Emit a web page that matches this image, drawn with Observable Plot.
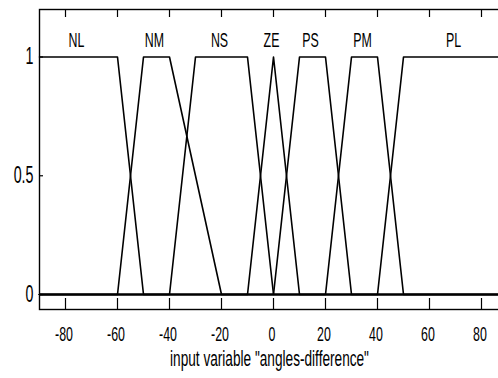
<!DOCTYPE html>
<html><head><meta charset="utf-8">
<script src="https://cdn.jsdelivr.net/npm/d3@7"></script>
<script src="https://cdn.jsdelivr.net/npm/@observablehq/plot@0.6"></script>
<style>body{margin:0;background:#fff} svg{display:block}</style>
</head><body><div id="chart"></div>
<script>
const mfNames = ["NL","NM","NS","ZE","PS","PM","PL"];
const mfA = [-90,-60,-40,-10,0,20,40];
const mfB = [-90,-50,-30,0,10,30,50];
const mfC = [-60,-40,-10,0,20,40,90];
const mfD = [-50,-20,0,10,30,50,90];
const labelX = [-75,-45,-20,0,15,35,70];
const xTicks = [-80,-60,-40,-20,0,20,40,60,80];
const yTicks = [0,0.5,1];
const xDomain = [-90,90];
const yDomain = [-0.063,1.2];
const xTitle = 'input variable "angles-difference"';

function mu(x,a,b,c,d){
  const up = b===a ? 1 : (x-a)/(b-a);
  const down = d===c ? 1 : (d-x)/(d-c);
  return Math.max(0, Math.min(up, 1, down));
}
const pts = [];
mfNames.forEach((n,i)=>{
  const xs = Array.from(new Set([xDomain[0], mfA[i], mfB[i], mfC[i], mfD[i], xDomain[1]])).sort((p,q)=>p-q);
  xs.forEach(x=>pts.push({name:n, x, y: mu(x,mfA[i],mfB[i],mfC[i],mfD[i])}));
});
const labels = mfNames.map((n,i)=>({name:n, x:labelX[i], y:1.1}));

// tick lengths in pixels converted to data units
const pxPerY = 300 / (yDomain[1]-yDomain[0]);
const pxPerX = (507-39) / (xDomain[1]-xDomain[0]);

const chart = Plot.plot({
  width: 498, height: 378,
  marginLeft: 39, marginTop: 9, marginBottom: 69, marginRight: -9,
  style: {fontFamily: "'Liberation Sans',Arial,sans-serif", fontSize: "20px", background: "#fff", color: "#000"},
  x: {domain: xDomain},
  y: {domain: yDomain},
  marks: [
    Plot.line(pts, {x:"x", y:"y", z:"name", stroke:"#000", strokeWidth:1.6}),
    Plot.ruleX(xTicks, {y1: yDomain[0], y2: yDomain[0] + 11/pxPerY, stroke:"#000", strokeWidth:1.2}),
    Plot.ruleX(xTicks, {y1: yDomain[1], y2: yDomain[1] - 8/pxPerY, stroke:"#000", strokeWidth:1.2}),
    Plot.ruleY(yTicks, {x1: xDomain[0], x2: xDomain[0] + 4/pxPerX, stroke:"#000", strokeWidth:1.2}),
    Plot.frame({stroke:"#000", strokeWidth:1.4}),
    Plot.axisX({anchor:"bottom", ticks:xTicks, tickSize:0, tickPadding:17, label:null, fontSize:20, dx:-1.5, tickFormat:d=>String(d)}),
    Plot.axisY({anchor:"left", ticks:yTicks, tickSize:0, tickPadding:6, label:null, fontSize:23, tickFormat:d=>String(d)}),
    Plot.text(labels, {x:"x", y:"y", text:"name", fontSize:20, dx:-2, lineAnchor:"top"}),
    Plot.text([xTitle], {frameAnchor:"bottom", text:d=>d, dy:56, dx:-4, fontSize:22})
  ]
});
// emulate the narrow, tall MATLAB font by compressing text horizontally
const S = 0.62;
chart.querySelectorAll("text").forEach(t=>{
  if (t.hasAttribute("x")) t.setAttribute("x", String(parseFloat(t.getAttribute("x"))/S));
  const tr = t.getAttribute("transform") || "";
  t.setAttribute("transform", tr + " scale(" + S + ",1)");
});
document.getElementById("chart").append(chart);
</script>
</body></html>
